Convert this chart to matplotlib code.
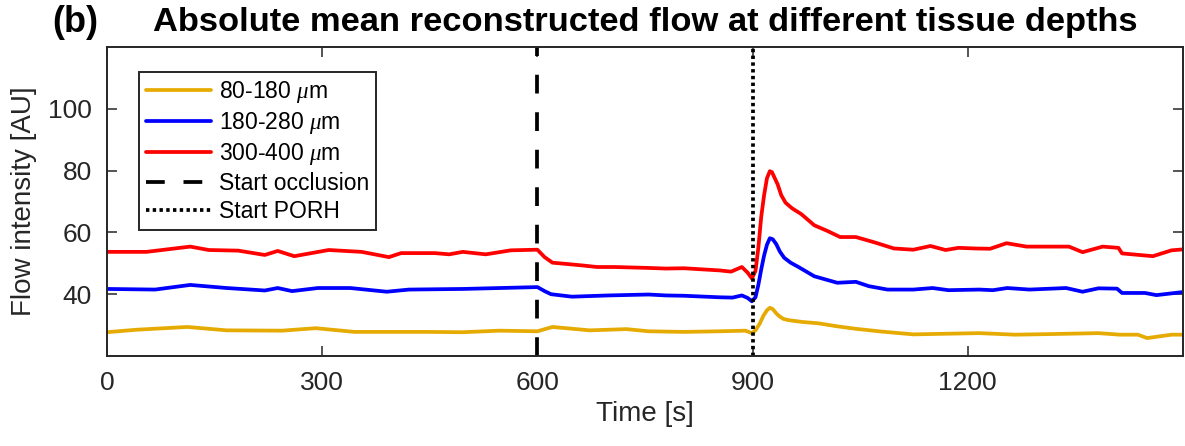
"""
Absolute mean reconstructed flow at different tissue depths (panel b)
"""

import numpy as np
import matplotlib

matplotlib.use("Agg")
import matplotlib.pyplot as plt

plt.rcParams['font.family'] = ['Liberation Sans', 'DejaVu Sans']
plt.rcParams['mathtext.fontset'] = 'custom'
plt.rcParams['mathtext.it'] = 'Liberation Serif:italic'

# ========= data =========
t_red = [0, 55, 116, 142, 183, 220, 238, 261, 309, 355, 393, 410, 457, 477, 496, 528,
         563, 600, 610, 621, 640, 663, 683, 708, 755, 779, 804, 854, 870, 885, 893, 899,
         904, 908, 912, 916, 920, 924, 927, 930, 935, 940, 946, 955, 968, 986, 1004, 1022,
         1044, 1071, 1097, 1124, 1148, 1169, 1187, 1210, 1231, 1254, 1282, 1341, 1360,
         1388, 1410, 1415, 1458, 1484, 1500]
v_red = [53.7, 53.7, 55.4, 54.3, 54.1, 52.7, 54.0, 52.3, 54.3, 53.7, 52.0, 53.3, 53.3, 52.9,
         53.7, 52.9, 54.2, 54.4, 52.0, 50.2, 49.8, 49.3, 48.8, 48.8, 48.5, 48.3, 48.4, 47.7,
         47.3, 48.8, 47.0, 45.1, 47.5, 55.0, 65.0, 72.0, 77.5, 79.8, 79.5, 78.0, 75.5, 72.0,
         69.6, 67.8, 65.9, 62.3, 60.5, 58.5, 58.5, 56.7, 54.8, 54.4, 55.6, 54.3, 55.0, 54.8,
         54.7, 56.5, 55.4, 55.4, 53.6, 55.4, 55.0, 53.2, 52.3, 54.2, 54.5]

t_blue = [0, 67, 116, 167, 220, 238, 258, 294, 339, 390, 421, 496, 600, 610, 619, 648,
          699, 755, 779, 804, 854, 872, 885, 893, 899, 904, 908, 912, 916, 920, 924, 928,
          933, 938, 944, 953, 964, 986, 1018, 1044, 1062, 1088, 1124, 1151, 1173, 1216,
          1235, 1255, 1286, 1337, 1360, 1382, 1408, 1415, 1447, 1463, 1500]
v_blue = [41.7, 41.5, 43.0, 42.0, 41.2, 42.0, 41.0, 42.0, 42.0, 40.8, 41.5, 41.7, 42.3,
          41.0, 40.0, 39.2, 39.6, 39.9, 39.6, 39.5, 39.0, 38.9, 39.6, 38.8, 37.7, 39.0,
          43.0, 48.0, 52.5, 56.0, 58.1, 57.8, 56.2, 53.8, 51.8, 50.2, 48.8, 45.8, 43.7,
          44.0, 42.6, 41.5, 41.5, 42.0, 41.3, 41.5, 41.3, 42.0, 41.5, 42.0, 40.8, 41.9,
          41.8, 40.4, 40.4, 39.7, 40.7]

t_yellow = [0, 41, 112, 167, 244, 291, 345, 445, 496, 547, 600, 621, 673, 724, 755, 804,
            854, 890, 899, 904, 910, 915, 920, 924, 928, 933, 937, 943, 950, 970, 991, 1018,
            1044, 1080, 1124, 1169, 1216, 1266, 1316, 1382, 1412, 1437, 1450, 1484, 1500]
v_yellow = [27.7, 28.5, 29.4, 28.3, 28.2, 29.0, 27.8, 27.8, 27.7, 28.2, 28.0, 29.4, 28.3,
            28.7, 28.0, 27.8, 28.0, 28.2, 27.4, 28.3, 30.5, 33.0, 34.8, 35.6, 35.2, 33.8,
            32.9, 32.0, 31.6, 31.0, 30.6, 29.6, 28.8, 27.9, 27.0, 27.2, 27.4, 26.9, 27.1,
            27.4, 26.9, 26.9, 25.8, 26.9, 26.9]

series_labels = ['80-180 $\\mu$m', '180-280 $\\mu$m', '300-400 $\\mu$m']
series_colors = ['#E6AB02', '#0000FF', '#FF0000']

t_occlusion = 600
t_porh = 900

x_ticks = [0, 300, 600, 900, 1200]
y_ticks = [40, 60, 80, 100]


def main():
    fig = plt.figure(figsize=(11.85, 4.46), dpi=100)
    ax = fig.add_axes([107 / 1185, 90 / 446, 1076 / 1185, 309 / 446])

    for t, v, lab, col in zip([t_yellow, t_blue, t_red], [v_yellow, v_blue, v_red],
                              series_labels, series_colors):
        ax.plot(t, v, color=col, linewidth=2.7, label=lab,
                solid_joinstyle='round', solid_capstyle='round')

    ax.axvline(t_occlusion, color='black', linewidth=2.7, linestyle=(0, (5, 5)),
               dash_capstyle='butt', label='Start occlusion')
    ax.axvline(t_porh, color='black', linewidth=2.7, linestyle=(0, (0.9, 0.9)),
               dash_capstyle='butt', label='Start PORH')

    ax.set_xlim(0, 1500)
    ax.set_ylim(20, 120)
    ax.set_xticks(x_ticks)
    ax.set_yticks(y_ticks)

    dark = '#262626'
    for sp in ax.spines.values():
        sp.set_color(dark)
        sp.set_linewidth(1.4)
    ax.tick_params(direction='in', length=7, width=1.1, color=dark, labelcolor=dark,
                   labelsize=19, top=True, right=True, pad=11)

    ax.set_xlabel('Time [s]', fontsize=20, color=dark, labelpad=4)
    ax.set_ylabel('Flow intensity [AU]', fontsize=20, color=dark, labelpad=8)

    fig.text(645 / 1185, 1 - 22 / 446,
             'Absolute mean reconstructed flow at different tissue depths',
             fontsize=24.8, fontweight='bold', ha='center', va='center')
    fig.text(75 / 1185, 1 - 22 / 446, '(b)', fontsize=26, fontweight='bold',
             ha='center', va='center')

    leg = ax.legend(loc='upper left', bbox_to_anchor=(0.0297, 0.919), fontsize=16.5,
                    frameon=True, fancybox=False, framealpha=1, edgecolor=dark,
                    handlelength=2.85, handletextpad=0.35, borderpad=0.3,
                    labelspacing=0.22, borderaxespad=0)
    leg.get_frame().set_linewidth(1.4)

    fig.savefig('out.png', dpi=100)
    plt.close(fig)


if __name__ == "__main__":
    main()
